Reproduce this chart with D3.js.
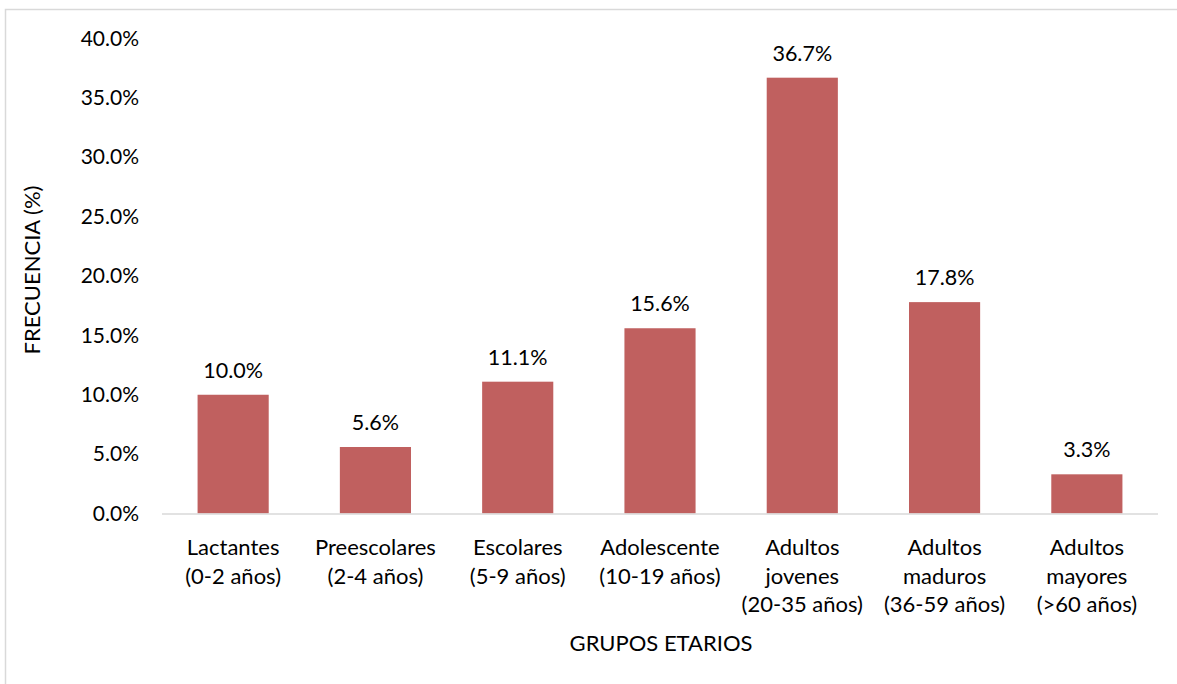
<!DOCTYPE html>
<html>
<head>
<meta charset="utf-8">
<script src="https://cdn.jsdelivr.net/npm/d3@7"></script>
<style>
  body { margin: 0; background: #fff; }
  text { font-family: Lato, "Open Sans", sans-serif; fill: #000; }
</style>
</head>
<body>
<script>
'use strict';

const categories = [
    ["Lactantes", "(0-2 años)"],
    ["Preescolares", "(2-4 años)"],
    ["Escolares", "(5-9 años)"],
    ["Adolescente", "(10-19 años)"],
    ["Adultos", "jovenes", "(20-35 años)"],
    ["Adultos", "maduros", "(36-59 años)"],
    ["Adultos", "mayores", "(>60 años)"]
];
const values = [10.0, 5.6, 11.1, 15.6, 36.7, 17.8, 3.3];
const yTicks = [0, 5, 10, 15, 20, 25, 30, 35, 40];

const width = 1177, height = 684;
const x0 = 162, x1 = 1158, yBase = 513.5, yTop = 38.5;

let svg = d3.select("body").append("svg")
    .attr("width", width)
    .attr("height", height);

// chart frame
svg.append("rect")
    .attr("x", 5.5).attr("y", 9.5)
    .attr("width", width + 10).attr("height", height + 10)
    .attr("fill", "none")
    .attr("stroke", "#d9d9d9")
    .attr("stroke-width", 1.5);

let x = d3.scaleBand()
    .domain(categories.map((d, i) => i))
    .range([x0, x1])
    .paddingInner(0.5)
    .paddingOuter(0.25);

let y = d3.scaleLinear().domain([0, 40]).range([yBase, yTop]);

// y axis labels
svg.append("g")
    .attr("transform", "translate(" + (x0 - 6) + ",0)")
    .call(d3.axisLeft(y).tickValues(yTicks).tickSize(0).tickPadding(17)
        .tickFormat(d => d.toFixed(1) + "%"))
    .call(g => g.select(".domain").remove())
    .selectAll("text")
    .style("font-size", "21px")
    .style("font-family", "Lato, sans-serif")
    .attr("fill", "#000");

// bars
svg.selectAll("rect.bar")
    .data(values)
    .enter().append("rect")
    .attr("class", "bar")
    .attr("x", (d, i) => x(i))
    .attr("y", d => y(d))
    .attr("width", x.bandwidth())
    .attr("height", d => yBase - y(d))
    .attr("fill", "#c0605f");

// x axis line
svg.append("line")
    .attr("x1", x0).attr("x2", x1)
    .attr("y1", yBase + 0.5).attr("y2", yBase + 0.5)
    .attr("stroke", "#d9d9d9")
    .attr("stroke-width", 1.5);

// data labels
svg.selectAll("text.val")
    .data(values)
    .enter().append("text")
    .attr("class", "val")
    .attr("x", (d, i) => x(i) + x.bandwidth() / 2)
    .attr("y", d => y(d) - 17)
    .attr("text-anchor", "middle")
    .style("font-size", "21.5px")
    .text(d => d.toFixed(1) + "%");

// category labels
let cat = svg.selectAll("text.cat")
    .data(categories)
    .enter().append("text")
    .attr("class", "cat")
    .attr("text-anchor", "middle")
    .style("font-size", "22px");

cat.selectAll("tspan")
    .data((d, i) => d.map(s => ({ s: s, i: i })))
    .enter().append("tspan")
    .attr("x", d => x(d.i) + x.bandwidth() / 2)
    .attr("y", (d, j) => 555 + j * 28.5)
    .text(d => d.s);

// axis titles
svg.append("text")
    .attr("x", 661).attr("y", 651)
    .attr("text-anchor", "middle")
    .style("font-size", "22px")
    .text("GRUPOS ETARIOS");

svg.append("text")
    .attr("transform", "translate(40,270) rotate(-90)")
    .attr("text-anchor", "middle")
    .style("font-size", "22px")
    .text("FRECUENCIA (%)");
</script>
</body>
</html>
